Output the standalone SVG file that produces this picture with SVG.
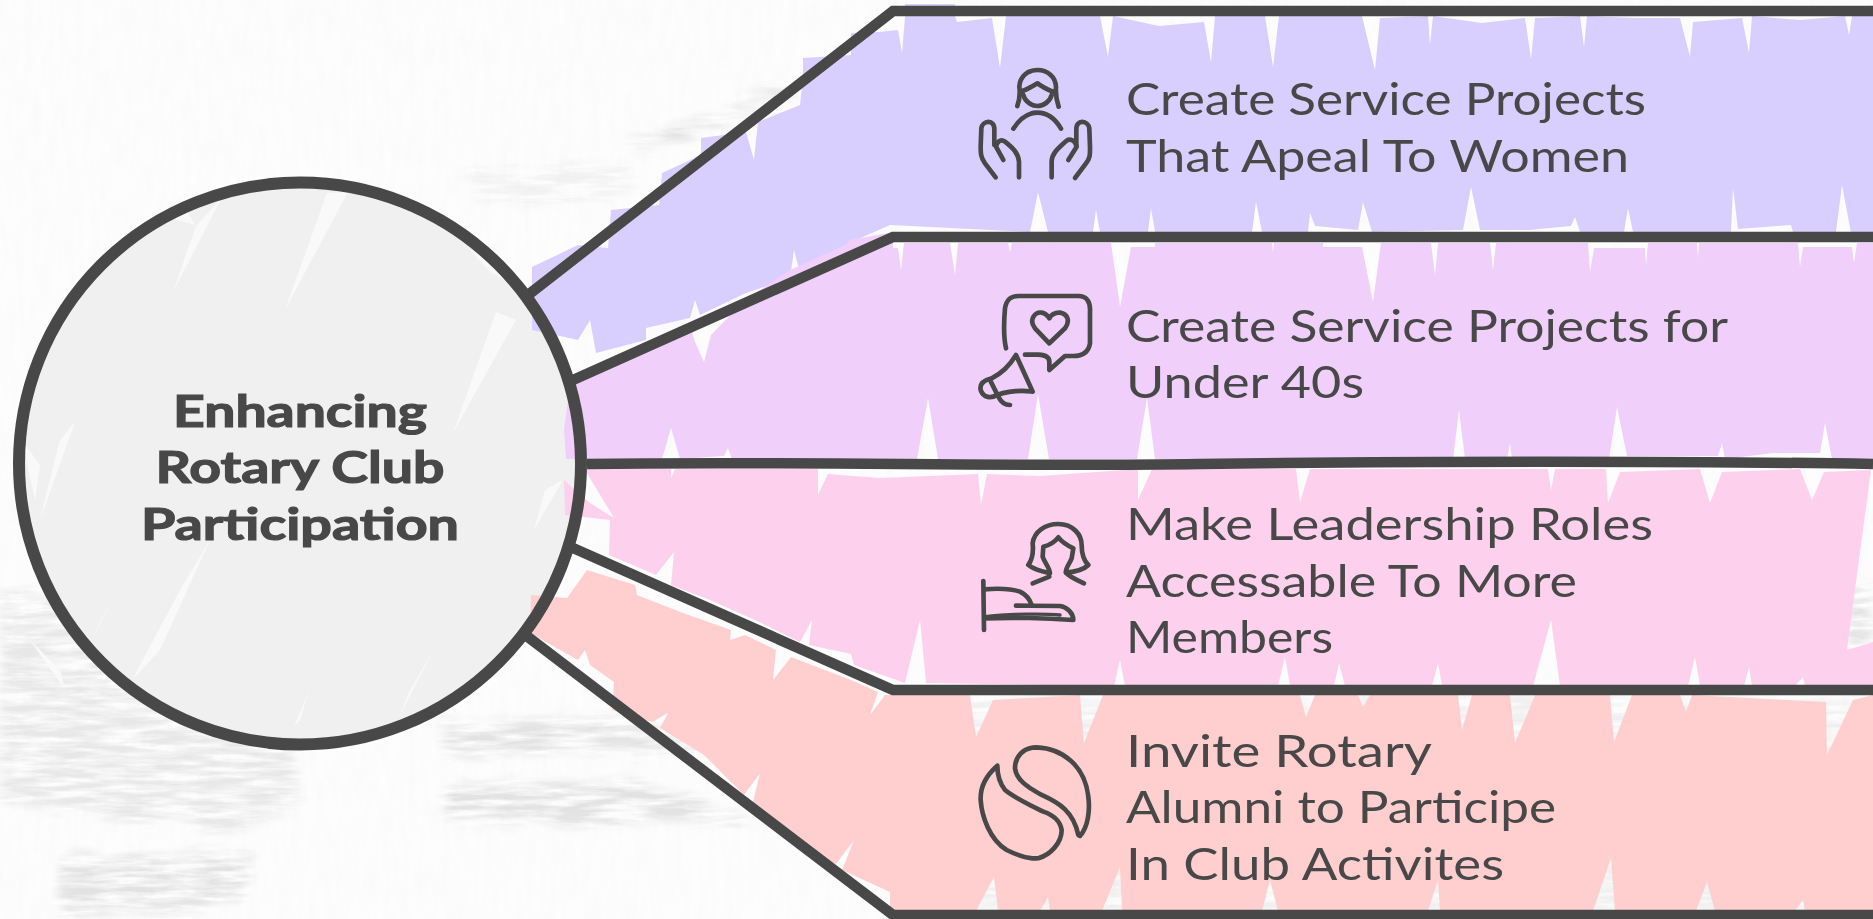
<svg xmlns="http://www.w3.org/2000/svg" width="1873" height="919" viewBox="0 0 1873 919">
<style>
.ln{fill:none;stroke:#484848;stroke-width:10.5;stroke-linejoin:miter}
.ring{fill:none;stroke:#484848;stroke-width:12}
.ic{fill:none;stroke:#484848;stroke-width:14;stroke-linecap:round;stroke-linejoin:round}
.lb{font-family:"Lato","Noto Sans",sans-serif;font-size:44px;fill:#484848}
.tt{font-family:"Lato","Noto Sans",sans-serif;font-size:44px;font-weight:700;fill:#484848;stroke:#484848;stroke-width:1.2}
.sp{fill:#f9f9f9}
</style>
<defs>
<filter id="weave" x="0" y="0" width="100%" height="100%">
<feTurbulence type="fractalNoise" baseFrequency="0.12 0.03" numOctaves="3" seed="4"/>
<feColorMatrix type="matrix" values="0 0 0 0 0.6 0 0 0 0 0.6 0 0 0 0 0.6 0.8 0 0 0 -0.3"/>
</filter>
<filter id="smear" x="-20%" y="-20%" width="140%" height="140%">
<feTurbulence type="fractalNoise" baseFrequency="0.02 0.16" numOctaves="4" seed="9" result="n"/>
<feDisplacementMap in="SourceGraphic" in2="n" scale="34" result="d"/>
<feGaussianBlur in="d" stdDeviation="5" result="b"/>
<feColorMatrix in="n" type="matrix" values="0 0 0 0 0 0 0 0 0 0 0 0 0 0 0 2.6 0 0 0 -0.75" result="a"/>
<feComposite in="b" in2="a" operator="in"/>
</filter>
</defs>
<g id="background">
<rect width="1873" height="919" fill="#fdfdfd"/>
<rect width="1873" height="919" filter="url(#weave)" opacity=".14"/>
<g filter="url(#smear)" fill="#e2e2e2">
<path d="M0 590 L130 610 L280 640 L300 800 L240 830 L120 820 L0 800Z" opacity=".8"/>
<path d="M60 860 L255 850 L240 905 L60 919Z"/>
<path d="M445 722 L640 720 L720 752 L445 752Z"/>
<path d="M445 785 L640 782 L745 815 L735 825 L445 820Z"/>
<path d="M625 143 L700 115 L790 85 L795 92 L710 128 L630 150Z"/>
<path d="M470 170 L640 165 L610 205 L470 200Z" opacity=".4"/>
<path d="M1845 590 L1873 580 L1873 660 L1845 660Z"/>
<path d="M900 700 L1873 700 L1873 919 L900 919Z" opacity=".5"/>
</g>
</g>
<g id="center">
<circle cx="300" cy="463.5" r="281" fill="#f0f0f0"/>
<g class="sp">
<path d="M222 197 L196 226 L173 292Z"/>
<path d="M348 192 L327 193 L285 310Z"/>
<path d="M516 320 L496 312 L453 433Z"/>
<path d="M75 422 L60 440 L40 520Z"/>
<path d="M210 540 L180 590 L132 680 L160 650Z"/>
<path d="M432 653 L410 690 L399 717Z"/>
<path d="M309 690 L300 720 L294 727Z"/>
<path d="M111 600 L100 625 L93 637Z"/>
<path d="M563 480 L545 490 L534 530Z"/>
<path d="M470 250 L490 272 L505 280 L490 255Z"/>
<path d="M180 197 L160 215 L195 225Z"/>
<path d="M30 640 L65 690 L60 670Z"/>
<path d="M22 440 L35 500 L40 465Z"/>
</g>
<text class="tt" x="300" y="427" text-anchor="middle" textLength="254" lengthAdjust="spacingAndGlyphs">Enhancing</text>
<text class="tt" x="300" y="483" text-anchor="middle" textLength="289" lengthAdjust="spacingAndGlyphs">Rotary Club</text>
<text class="tt" x="300" y="540" text-anchor="middle" textLength="318" lengthAdjust="spacingAndGlyphs">Participation</text>
</g>
<g id="node-1">
<path fill="#d9cffe" d="M532 267 L578 245 L608 248 L611 210 L659 205 L662 173 L701 155 L701 138 L746 132 L754 160 L758 122 L800 105 L803 78 L803 58 L851 55 L851 33 L878 32 L898 30 L902 53 L905 17 L905 4 L955 4 L955 16 L957 22 L992 18 L1000 68 L1006 16 L1100 16 L1108 57 L1113 16 L1159 26 L1204 22 L1211 62 L1215 16 L1265 16 L1273 67 L1279 16 L1362 16 L1375 70 L1380 18 L1428 16 L1430 45 L1433 16 L1482 23 L1525 18 L1531 59 L1535 18 L1580 16 L1584 47 L1587 16 L1635 18 L1680 18 L1690 57 L1693 22 L1742 18 L1749 53 L1752 16 L1800 20 L1845 16 L1849 35 L1852 16 L1873 16 L1873 233 L1851 233 L1842 185 L1836 232 L1793 232 L1791 225 L1738 229 L1733 188 L1731 232 L1633 232 L1628 208 L1624 232 L1580 232 L1575 217 L1571 226 L1530 230 L1480 230 L1471 187 L1463 230 L1372 232 L1363 202 L1358 230 L1315 226 L1310 213 L1308 232 L1262 232 L1256 202 L1252 232 L1155 232 L1151 208 L1148 232 L1100 232 L1096 210 L1093 232 L1048 232 L1038 192 L1030 232 L890 225 L845 245 L810 268 L800 273 L794 250 L790 278 L746 293 L700 315 L695 300 L690 318 L646 328 L646 340 L596 353 L590 320 L578 340 L532 330Z"/>
<g transform="translate(960 50) scale(.3333)">
<g class="ic">
<path d="M172 168 Q182 140 178 110 C180 78 205 60 232 60 C262 60 288 80 288 112 Q286 140 296 170"/>
<path d="M182 125 C200 120 218 108 232 100 C248 110 265 122 282 125"/>
<path d="M190 135 C195 155 215 168 232 168 C250 168 270 155 275 135"/>
<path d="M160 236 C180 205 205 188 232 188 C260 188 285 205 303 236"/>
<path d="M107 382 L75 340 C62 322 62 310 62 290 L64 235 C66 212 105 205 103 240 L103 285"/>
<path d="M130 330 L108 290 C112 270 125 268 135 275 C160 295 175 310 177 335 L177 382"/>
<path d="M345 384 L378 340 C392 322 390 310 390 290 L388 235 C386 212 347 205 349 240 L349 285"/>
<path d="M325 330 L350 290 C345 270 330 265 320 272 C295 295 275 310 275 335 L275 382"/>
</g></g>
<text class="lb" x="1126" y="115" textLength="520" lengthAdjust="spacingAndGlyphs">Create Service Projects</text>
<text class="lb" x="1126" y="172" textLength="503" lengthAdjust="spacingAndGlyphs">That Apeal To Women</text>
</g>
<g id="node-2">
<path fill="#f0cffb" d="M570 385 L640 345 L690 325 L695 342 L704 362 L711 335 L745 300 L790 270 L845 245 L850 240 L893 232 L893 248 L898 248 L901 270 L904 243 L950 243 L955 275 L958 243 L1008 243 L1010 252 L1012 243 L1111 243 L1120 307 L1131 247 L1155 247 L1155 243 L1272 243 L1273 253 L1274 243 L1323 243 L1323 247 L1362 247 L1373 302 L1381 243 L1431 243 L1435 275 L1438 243 L1490 243 L1493 270 L1496 243 L1588 243 L1590 272 L1594 248 L1645 248 L1646 265 L1648 243 L1697 243 L1698 258 L1699 243 L1798 243 L1800 267 L1803 247 L1852 247 L1854 263 L1857 243 L1873 243 L1873 459 L1832 459 L1825 423 L1820 453 L1773 453 L1725 459 L1722 443 L1718 456 L1627 456 L1617 407 L1609 459 L1512 459 L1510 443 L1507 459 L1465 459 L1459 410 L1453 459 L1300 459 L1155 459 L1147 398 L1137 459 L1049 459 L1038 394 L1028 459 L938 459 L928 398 L917 459 L732 459 L728 448 L724 456 L680 459 L671 428 L662 459 L566 459 L564 430Z"/>
<g transform="translate(960 50) scale(.3333)">
<g class="ic">
<path d="M138 895 C130 860 132 810 135 775 C140 745 155 738 175 738 L355 738 C380 738 392 755 390 785 L390 880 C385 910 365 918 340 918 L315 918 L268 960 L268 935 C268 920 255 915 235 914 L195 914"/>
<path d="M268 880 L225 835 C205 810 225 785 245 788 C258 790 265 800 268 805 C272 795 285 787 300 788 C325 792 330 815 315 835Z"/>
<path d="M168 915 L218 1025 C180 1020 150 1022 110 1035 C95 1045 70 1045 62 1020 C58 1000 75 990 95 985 C125 970 150 945 168 915Z"/>
<path d="M90 990 L115 1040 C125 1060 135 1065 150 1065"/>
</g></g>
<text class="lb" x="1126" y="342" textLength="602" lengthAdjust="spacingAndGlyphs">Create Service Projects for</text>
<text class="lb" x="1126" y="398" textLength="238" lengthAdjust="spacingAndGlyphs">Under 40s</text>
</g>
<g id="node-3">
<path fill="#fdd1ee" d="M585 469 L671 469 L671 478 L675 469 L818 469 L818 495 L828 474 L880 478 L978 474 L981 505 L987 474 L1040 476 L1138 469 L1138 500 L1152 469 L1296 469 L1300 502 L1310 469 L1548 469 L1551 490 L1555 469 L1606 469 L1608 503 L1620 472 L1700 469 L1710 503 L1722 472 L1800 469 L1812 500 L1824 472 L1871 470 L1847 650 L1873 642 L1873 686 L1805 686 L1803 677 L1795 686 L1752 686 L1749 667 L1744 686 L1700 686 L1695 657 L1688 686 L1560 686 L1551 620 L1533 686 L1442 686 L1438 663 L1432 686 L1345 686 L1339 663 L1334 686 L1290 686 L1285 657 L1278 686 L1125 686 L1120 660 L1114 686 L926 683 L920 620 L905 683 L854 665 L851 654 L809 645 L812 620 L800 642 L755 620 L710 600 L671 585 L674 552 L656 575 L609 555 L610 520 L565 515 L564 480 L590 503 L614 518 L585 470Z"/>
<g transform="translate(960 500) scale(.3333)">
<g class="ic">
<path d="M205 195 C220 175 220 150 218 130 C222 95 255 72 295 72 C340 72 365 105 365 135 C365 160 370 180 385 195 C370 210 350 215 318 218 C315 205 330 190 335 175 L340 145 C320 135 305 125 295 112 C285 125 270 135 250 140 L248 170 C255 190 270 205 270 220 C250 215 225 210 205 195Z"/>
<path d="M218 250 L268 230"/>
<path d="M318 218 C325 228 345 238 372 250"/>
<path d="M70 243 L72 390"/>
<path d="M72 268 C110 265 150 265 180 275 C200 285 210 300 215 315"/>
<path d="M168 317 L300 318 C320 320 340 340 340 360 C250 354 150 352 75 355"/>
<path d="M75 350 C150 342 250 340 300 345" stroke-width="10"/>
</g></g>
<text class="lb" x="1126" y="540" textLength="527" lengthAdjust="spacingAndGlyphs">Make Leadership Roles</text>
<text class="lb" x="1126" y="597" textLength="451" lengthAdjust="spacingAndGlyphs">Accessable To More</text>
<text class="lb" x="1126" y="653" textLength="207" lengthAdjust="spacingAndGlyphs">Members</text>
</g>
<g id="node-4">
<path fill="#ffcfcf" d="M531 595 L567 598 L587 570 L635 585 L637 595 L683 613 L731 630 L730 640 L745 635 L776 650 L773 680 L791 657 L830 672 L851 680 L878 692 L870 715 L885 695 L970 695 L976 737 L993 700 L1080 695 L1084 743 L1103 695 L1300 695 L1306 717 L1315 695 L1358 695 L1363 707 L1370 695 L1458 695 L1462 730 L1472 695 L1510 695 L1515 743 L1535 695 L1610 695 L1614 742 L1632 695 L1680 695 L1686 712 L1692 695 L1826 702 L1827 755 L1853 700 L1873 695 L1873 911 L1805 911 L1803 900 L1795 911 L1715 911 L1707 882 L1696 911 L1615 911 L1611 858 L1593 911 L1440 911 L1438 880 L1428 911 L1278 911 L1270 880 L1262 911 L1122 911 L1120 867 L1102 911 L1050 911 L1048 897 L1040 911 L998 911 L994 877 L976 911 L890 912 L890 892 L842 870 L854 840 L836 864 L800 848 L790 830 L752 806 L760 773 L744 795 L704 755 L660 728 L668 713 L652 722 L612 710 L614 682 L590 665 L585 650 L578 660 L530 633Z"/>
<g transform="translate(960 500) scale(.3333)">
<g class="ic">
<path d="M360 1008 C385 980 390 930 385 890 C375 800 310 745 230 742 C190 742 165 770 165 805 C170 840 200 860 245 885 C300 910 340 935 355 1005Z"/>
<path d="M112 797 C80 825 60 860 62 900 C65 950 90 1020 140 1050 C170 1065 200 1078 235 1075 C270 1065 305 1030 305 990 C300 960 280 945 250 935 C210 915 165 895 135 870 C120 850 112 825 112 797Z"/>
</g></g>
<text class="lb" x="1126" y="767" textLength="306" lengthAdjust="spacingAndGlyphs">Invite Rotary</text>
<text class="lb" x="1126" y="823" textLength="430" lengthAdjust="spacingAndGlyphs">Alumni to Participe</text>
<text class="lb" x="1126" y="880" textLength="378" lengthAdjust="spacingAndGlyphs">In Club Activites</text>
</g>
<g id="connectors">
<path class="ln" d="M528 295 L893 11 L1873 11"/>
<path class="ln" d="M573 380 L893 237 L1873 237"/>
<path class="ln" d="M587 464 C800 461 1000 467 1200 464 S1700 461 1873 464"/>
<path class="ln" d="M573 548 L893 690 L1873 690"/>
<path class="ln" d="M528 637 L893 915 L1873 915"/>
</g>
<g id="center-outline">
<circle class="ring" cx="300" cy="463.5" r="281"/>
</g>
</svg>
